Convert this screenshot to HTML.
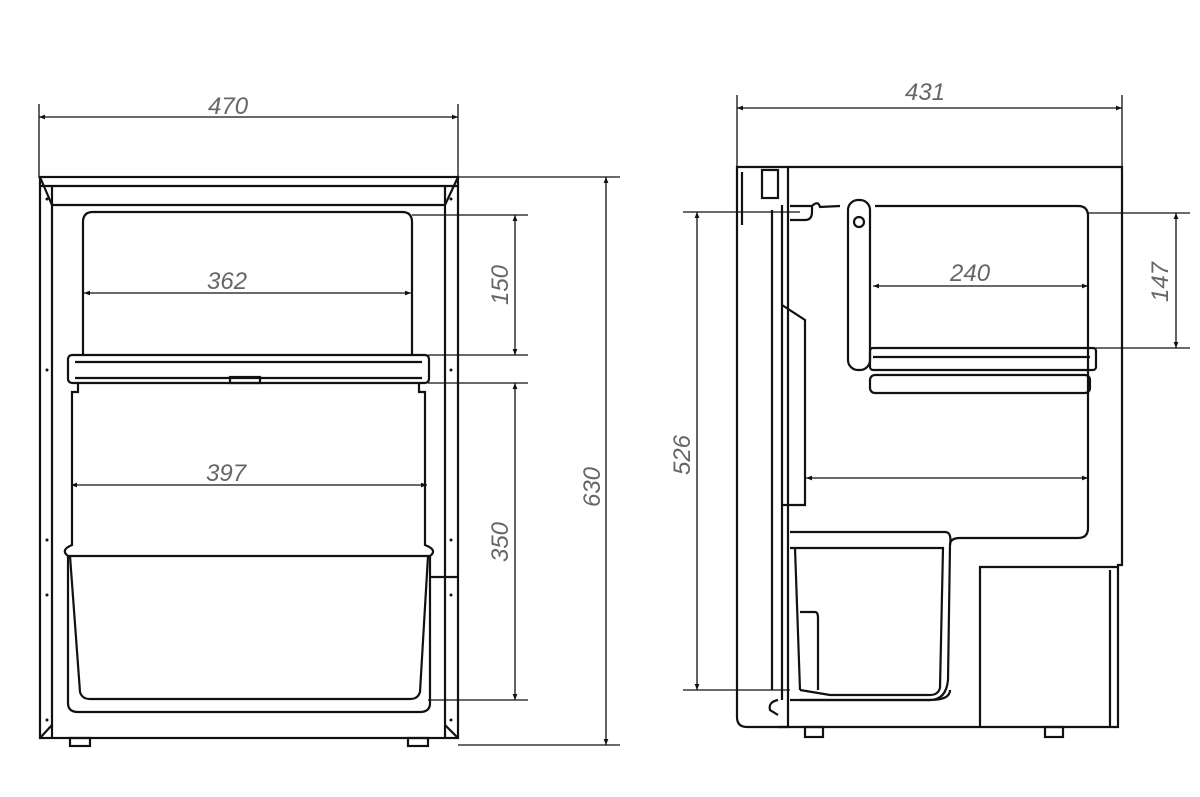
<!DOCTYPE html>
<html><head><meta charset="utf-8"><style>
html,body{margin:0;padding:0;background:#fff;}
svg{display:block;}
text{font-family:"Liberation Sans",sans-serif;font-style:italic;font-size:24px;fill:#666;}
</style></head><body>
<svg width="1200" height="797" viewBox="0 0 1200 797" xmlns="http://www.w3.org/2000/svg">
<defs>
<marker id="a" viewBox="0 0 10 10" refX="10" refY="5" markerWidth="16" markerHeight="6" orient="auto-start-reverse" markerUnits="userSpaceOnUse"><path d="M0,1 L10,5 L0,9z" fill="#111"/></marker>
</defs>
<g fill="none" stroke="#111" stroke-width="1.3">
<line x1="39" y1="104" x2="39" y2="178"/>
<line x1="458" y1="104" x2="458" y2="178"/>
<line x1="39" y1="117" x2="458" y2="117" marker-start="url(#a)" marker-end="url(#a)"/>
<line x1="458" y1="177" x2="620" y2="177"/>
<line x1="458" y1="745" x2="620" y2="745"/>
<line x1="606" y1="177" x2="606" y2="745" marker-start="url(#a)" marker-end="url(#a)"/>
<line x1="412" y1="215" x2="528" y2="215"/>
<line x1="428" y1="355" x2="528" y2="355"/>
<line x1="515" y1="215" x2="515" y2="355" marker-start="url(#a)" marker-end="url(#a)"/>
<line x1="428" y1="383" x2="528" y2="383"/>
<line x1="428" y1="700" x2="528" y2="700"/>
<line x1="515" y1="383" x2="515" y2="700" marker-start="url(#a)" marker-end="url(#a)"/>
<line x1="84" y1="293" x2="411" y2="293" marker-start="url(#a)" marker-end="url(#a)"/>
<line x1="71" y1="485" x2="427" y2="485" marker-start="url(#a)" marker-end="url(#a)"/>
</g>
<g fill="none" stroke="#111" stroke-width="2.2">
<rect x="40" y="177" width="418" height="561"/>
<line x1="40" y1="186" x2="458" y2="186"/>
<line x1="52" y1="205" x2="445" y2="205"/>
<line x1="52" y1="186" x2="52" y2="738"/>
<line x1="445" y1="186" x2="445" y2="738"/>
<line x1="40" y1="177" x2="52" y2="205"/><line x1="458" y1="177" x2="445" y2="205"/>
<line x1="40" y1="738" x2="52" y2="725"/><line x1="458" y1="738" x2="445" y2="725"/>
<path d="M83,356 V222 Q83,212 93,212 H402 Q412,212 412,222 V356"/>
<rect x="68" y="355" width="361" height="28" rx="4"/>
<line x1="75" y1="362" x2="422" y2="362"/>
<line x1="75" y1="378" x2="422" y2="378"/>
<path d="M78,383 V392 H72 V545 Q60,550 68,556 H430 Q438,550 425,545 V392 H419 V383"/>
<path d="M70,556 L80,692 Q82,699 90,699 H410 Q418,699 420,692 L428,556"/>
<path d="M68,556 V703 Q68,712 78,712 H420 Q430,712 430,703 V556"/>
<line x1="430" y1="577" x2="458" y2="577"/>
<rect x="70" y="738" width="20" height="8"/><rect x="408" y="738" width="20" height="8"/>
<rect x="230" y="377" width="30" height="6"/>
</g>
<g fill="#111">
<circle cx="47" cy="199" r="1.5"/><circle cx="451" cy="199" r="1.5"/>
<circle cx="47" cy="370" r="1.5"/><circle cx="451" cy="370" r="1.5"/>
<circle cx="47" cy="540" r="1.5"/><circle cx="451" cy="540" r="1.5"/>
<circle cx="47" cy="595" r="1.5"/><circle cx="451" cy="595" r="1.5"/>
<circle cx="47" cy="720" r="1.5"/><circle cx="451" cy="720" r="1.5"/>
</g>
<text x="208" y="114">470</text>
<text x="207" y="289">362</text>
<text x="206" y="481">397</text>
<text transform="translate(508,285) rotate(-90)" text-anchor="middle">150</text>
<text transform="translate(508,542) rotate(-90)" text-anchor="middle">350</text>
<text transform="translate(600,487) rotate(-90)" text-anchor="middle">630</text>

<g fill="none" stroke="#111" stroke-width="1.3">
<line x1="737" y1="95" x2="737" y2="168"/>
<line x1="1122" y1="95" x2="1122" y2="168"/>
<line x1="737" y1="108" x2="1122" y2="108" marker-start="url(#a)" marker-end="url(#a)"/>
<line x1="683" y1="212" x2="800" y2="212"/>
<line x1="683" y1="690" x2="790" y2="690"/>
<line x1="697" y1="212" x2="697" y2="690" marker-start="url(#a)" marker-end="url(#a)"/>
<line x1="1088" y1="213" x2="1190" y2="213"/>
<line x1="1095" y1="348" x2="1190" y2="348"/>
<line x1="1176" y1="213" x2="1176" y2="348" marker-start="url(#a)" marker-end="url(#a)"/>
<line x1="873" y1="286" x2="1088" y2="286" marker-start="url(#a)" marker-end="url(#a)"/>
<line x1="806" y1="478" x2="1088" y2="478" marker-start="url(#a)" marker-end="url(#a)"/>
</g>
<g fill="none" stroke="#111" stroke-width="2.2">
<path d="M788,167 H1122 V565 H1118 V727 H778"/>
<path d="M980,727 V567 H1118"/>
<line x1="1110" y1="570" x2="1110" y2="727"/>
<path d="M737,167 H788 V727 H747 Q737,727 737,717 Z"/>
<line x1="742" y1="172" x2="742" y2="225"/>
<rect x="762" y="170" width="16" height="28"/>
<line x1="772" y1="210" x2="772" y2="690"/>
<line x1="782" y1="205" x2="782" y2="700"/>
<path d="M782,305 L805,320 V505 H782"/>
<path d="M790,206 H812 Q818,200 820,207 L840,206 M875,206 H1078 Q1088,206 1088,216 V528 Q1088,538 1078,538 H960 Q950,538 950,545"/>
<path d="M790,220 H805 Q812,220 812,212 V206"/>
<rect x="848" y="200" width="22" height="170" rx="10"/>
<circle cx="859" cy="222" r="5"/>
<rect x="870" y="348" width="226" height="22" rx="3"/>
<rect x="870" y="375" width="220" height="18" rx="5"/>
<line x1="873" y1="357" x2="1090" y2="357"/>
<path d="M790,532 H945 Q952,532 950,545 L948,680 Q946,700 930,700 H800"/>
<path d="M790,548 H943 L940,688 Q938,695 930,695 H830 L800,690"/>
<path d="M795,548 L800,690 M800,612 H815 Q818,612 818,618 V690"/>
<path d="M790,700 H930 Q950,700 950,690"/>
<rect x="805" y="727" width="18" height="10"/><rect x="1045" y="727" width="18" height="10"/>
<path d="M778,700 Q768,702 770,710 L778,715"/>
</g>
<text x="905" y="100">431</text>
<text x="950" y="281">240</text>
<text transform="translate(1168,282) rotate(-90)" text-anchor="middle">147</text>
<text transform="translate(690,455) rotate(-90)" text-anchor="middle">526</text>
</svg>
</body></html>
